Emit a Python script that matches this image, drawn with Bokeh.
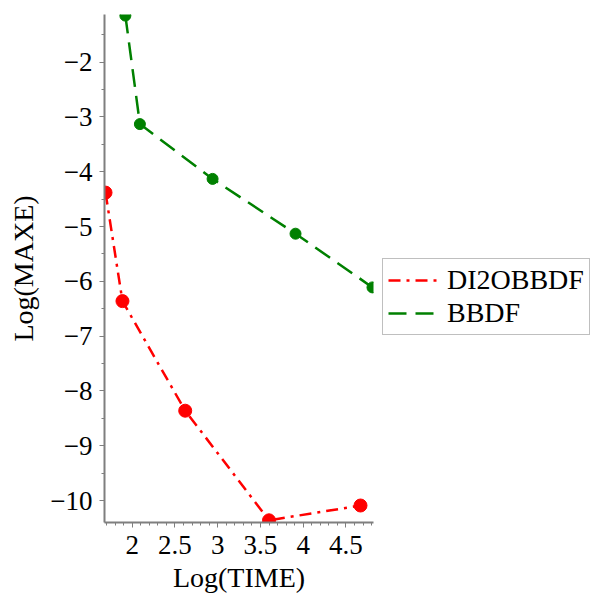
from bokeh.plotting import figure
from bokeh.models import Range1d, FixedTicker, Legend, LegendItem
from bokeh.embed import file_html
from bokeh.resources import INLINE

# data
x_di2obbdf = [1.688, 1.886, 2.62, 3.60, 4.67]
y_di2obbdf = [-4.38, -6.36, -8.36, -10.36, -10.09]
x_bbdf = [1.92, 2.09, 2.94, 3.91, 4.81]
y_bbdf = [-1.15, -3.13, -4.13, -5.13, -6.11]

x_ticks = [2, 2.5, 3, 3.5, 4, 4.5]
x_tick_labels = ["2", "2.5", "3", "3.5", "4", "4.5"]
y_ticks = [-10, -9, -8, -7, -6, -5, -4, -3, -2]
y_tick_labels = ["\u221210", "\u22129", "\u22128", "\u22127", "\u22126", "\u22125", "\u22124", "\u22123", "\u22122"]
series_names = ["DI2OBBDF", "BBDF"]

FONT = "Liberation Serif"
AXIS_COLOR = "#7f7f7f"

p = figure(output_backend="svg", toolbar_location=None,
           frame_width=269, frame_height=508,
           min_border_left=104, min_border_top=14, min_border_bottom=76, min_border_right=219,
           x_range=Range1d(1.676, 4.822), y_range=Range1d(-10.4, -1.13),
           background_fill_color="white", border_fill_color="white")
p.outline_line_color = None
p.grid.visible = False

r1 = p.line(x_di2obbdf, y_di2obbdf, line_color="#ff0000", line_width=2.5, line_dash="12 6 3 6")
r1c = p.scatter(x_di2obbdf, y_di2obbdf, size=13, color="#ff0000")
r2 = p.line(x_bbdf, y_bbdf, line_color="#008000", line_width=2.5, line_dash="18 9")
r2c = p.scatter(x_bbdf, y_bbdf, size=11, color="#008000")

# axes
xminor = [round(1.7 + 0.1 * i, 2) for i in range(32) if round(1.7 + 0.1 * i, 2) <= 4.8]
yminor = [-10.5 + 0.5 * i for i in range(19)]
p.xaxis.ticker = FixedTicker(ticks=x_ticks, minor_ticks=xminor)
p.yaxis.ticker = FixedTicker(ticks=y_ticks, minor_ticks=yminor)
p.xaxis.major_label_overrides = dict(zip(x_ticks, x_tick_labels))
p.yaxis.major_label_overrides = dict(zip(y_ticks, y_tick_labels))

for ax in (p.xaxis, p.yaxis):
    ax.axis_line_color = AXIS_COLOR
    ax.axis_line_width = 2
    ax.major_tick_line_color = AXIS_COLOR
    ax.minor_tick_line_color = AXIS_COLOR
    ax.major_tick_out = 5
    ax.major_tick_in = 0
    ax.minor_tick_out = 3
    ax.minor_tick_in = 0
    ax.major_label_text_font = FONT
    ax.major_label_text_font_size = "27px"
    ax.major_label_text_color = "black"
    ax.axis_label_text_font = FONT
    ax.axis_label_text_font_size = "28px"
    ax.axis_label_text_font_style = "normal"
    ax.axis_label_text_color = "black"

p.xaxis.axis_label = "Log(TIME)"
p.yaxis.axis_label = "Log(MAXE)"
p.xaxis.major_label_standoff = 8
p.yaxis.major_label_standoff = 7
p.xaxis.axis_label_standoff = 5
p.yaxis.axis_label_standoff = 8

legend = Legend(items=[LegendItem(label=series_names[0], renderers=[r1]),
                       LegendItem(label=series_names[1], renderers=[r2])],
                location=(9, 187), orientation="vertical",
                label_text_font=FONT, label_text_font_size="28px",
                label_text_color="black",
                glyph_width=49, glyph_height=26, label_height=26,
                label_standoff=10, padding=5, spacing=1, margin=0,
                border_line_color="#808080", border_line_width=1.5,
                background_fill_alpha=1.0)
p.add_layout(legend, "right")

open("out.html", "w").write(file_html(p, INLINE))
